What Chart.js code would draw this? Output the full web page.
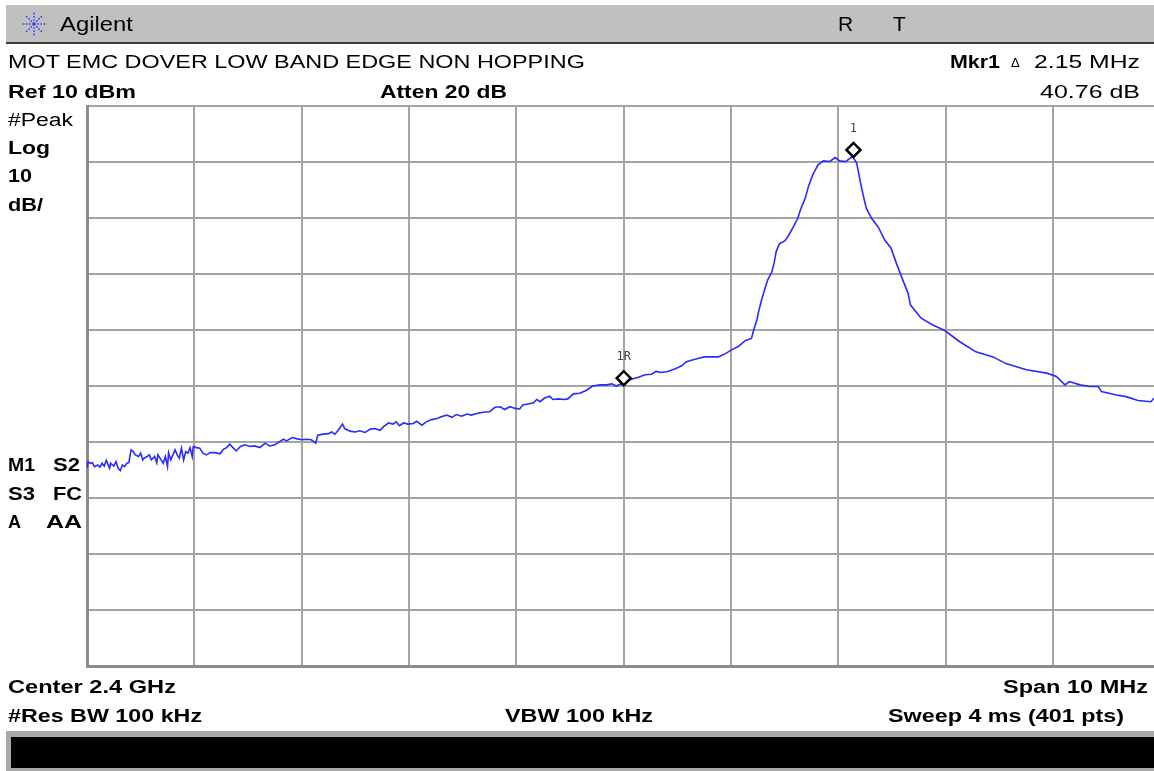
<!DOCTYPE html>
<html>
<head>
<meta charset="utf-8">
<title>Agilent spectrum - low band edge</title>
<script src="https://cdn.jsdelivr.net/npm/chart.js@4.4.1/dist/chart.umd.min.js"></script>
<style>
  html, body { margin: 0; padding: 0; background: #fff; overflow: hidden; width: 1154px; height: 771px; }
  body { position: relative; font-family: "Liberation Sans", Arial, sans-serif; color: #000; }
  #titleBar { position: absolute; left: 6px; top: 5px; width: 1148px; height: 37px; background: #c0c0c0; border-bottom: 2px solid #3c3c3c; }
  #logo { position: absolute; left: 19px; top: 11px; }
  .t { position: absolute; white-space: nowrap; font-size: 18px; line-height: 20px; transform-origin: 0 50%; }
  .b { font-weight: bold; }
  .big { font-size: 21px; line-height: 24px; }
  #chartBox { position: absolute; left: 0; top: 0; width: 1170px; height: 771px; }
  #statusBar { position: absolute; left: 6px; top: 731px; width: 1148px; height: 40px; background: #a8a8a8; }
  #statusBar div { position: absolute; left: 5px; top: 6px; right: 0; bottom: 3px; background: #000; }
</style>
</head>
<body>
<div id="titleBar"></div>
<svg id="logo" width="30" height="26" viewBox="0 0 30 26">
  <g stroke="#3c3cff" stroke-width="1.6" stroke-dasharray="1.6 1.6" fill="none">
    <line x1="15" y1="13" x2="15" y2="1"/>
    <line x1="15" y1="13" x2="15" y2="25"/>
    <line x1="15" y1="13" x2="2" y2="13"/>
    <line x1="15" y1="13" x2="28" y2="13"/>
    <line x1="15" y1="13" x2="6" y2="4"/>
    <line x1="15" y1="13" x2="24" y2="4"/>
    <line x1="15" y1="13" x2="6" y2="22"/>
    <line x1="15" y1="13" x2="24" y2="22"/>
  </g>
</svg>

<div id="chartBox"><canvas id="specChart" width="1170" height="771"></canvas></div>

<!-- annotation text, stretched to the widths seen on the instrument screen -->
<div class="t big" data-w="73" style="left:60px;top:12px;">Agilent</div>
<div class="t big" style="left:838px;top:12px;">R</div>
<div class="t big" style="left:893px;top:12px;">T</div>

<div class="t" data-w="577" style="left:8px;top:52px;">MOT EMC DOVER LOW BAND EDGE NON HOPPING</div>
<div class="t b" data-w="50" style="left:950px;top:52px;">Mkr1</div>
<div class="t" style="left:1011px;top:53px;font-size:13px;">&#916;</div>
<div class="t" data-w="106" style="left:1034px;top:52px;">2.15 MHz</div>

<div class="t b" data-w="128" style="left:8px;top:82px;">Ref 10 dBm</div>
<div class="t b" data-w="127" style="left:380px;top:82px;">Atten 20 dB</div>
<div class="t" data-w="100" style="left:1040px;top:82px;">40.76 dB</div>

<div class="t" data-w="65" style="left:8px;top:110px;">#Peak</div>
<div class="t b" data-w="42" style="left:8px;top:138px;">Log</div>
<div class="t b" data-w="24" style="left:8px;top:166px;">10</div>
<div class="t b" data-w="35" style="left:8px;top:195px;">dB/</div>

<div class="t b" data-w="27" style="left:8px;top:455px;">M1</div>
<div class="t b" data-w="27" style="left:53px;top:455px;">S2</div>
<div class="t b" data-w="27" style="left:8px;top:484px;">S3</div>
<div class="t b" data-w="29" style="left:53px;top:484px;">FC</div>
<div class="t b" style="left:8px;top:512px;">A</div>
<div class="t b" data-w="36" style="left:46px;top:512px;">AA</div>

<div class="t b" data-w="168" style="left:8px;top:677px;">Center 2.4 GHz</div>
<div class="t b" data-w="145" style="left:1003px;top:677px;">Span 10 MHz</div>
<div class="t b" data-w="194" style="left:8px;top:706px;">#Res BW 100 kHz</div>
<div class="t b" data-w="148" style="left:505px;top:706px;">VBW 100 kHz</div>
<div class="t b" data-w="236" style="left:888px;top:706px;">Sweep 4 ms (401 pts)</div>

<div id="statusBar"><div></div></div>

<script>
// sweep settings (Center 2.4 GHz, Span 10 MHz, Ref 10 dBm, 10 dB/div)
var spanMHz = 10;
var refLevelDbm = 10;
var dbPerDiv = 10;

// trace: frequency offset from start of span (MHz) and level (dBm)
var offsetMHz = [
  0.00, 0.01, 0.03, 0.05, 0.07, 0.10, 0.12, 0.14, 0.16, 0.18, 0.21, 0.22, 0.25, 0.27, 0.29, 0.31,
  0.33, 0.35, 0.37, 0.39, 0.41, 0.43, 0.45, 0.48, 0.50, 0.52, 0.53, 0.56, 0.58, 0.60, 0.63, 0.65,
  0.66, 0.69, 0.71, 0.73, 0.75, 0.76, 0.78, 0.80, 0.82, 0.84, 0.86, 0.88, 0.90, 0.92, 0.94, 0.96,
  0.98, 0.99, 1.02, 1.05, 1.08, 1.11, 1.15, 1.19, 1.24, 1.27, 1.30, 1.33, 1.36, 1.39, 1.43, 1.47,
  1.52, 1.56, 1.61, 1.66, 1.70, 1.75, 1.78, 1.83, 1.86, 1.91, 1.95, 2.00, 2.05, 2.09, 2.13, 2.15,
  2.20, 2.25, 2.28, 2.31, 2.34, 2.38, 2.40, 2.43, 2.46, 2.50, 2.54, 2.59, 2.64, 2.68, 2.73, 2.76,
  2.81, 2.85, 2.88, 2.91, 2.95, 2.99, 3.04, 3.07, 3.12, 3.16, 3.21, 3.26, 3.30, 3.35, 3.40, 3.44,
  3.49, 3.54, 3.58, 3.63, 3.69, 3.75, 3.80, 3.85, 3.89, 3.94, 3.99, 4.03, 4.06, 4.11, 4.16, 4.19,
  4.22, 4.26, 4.31, 4.34, 4.39, 4.44, 4.48, 4.53, 4.59, 4.65, 4.71, 4.78, 4.84, 4.89, 4.93, 4.99,
  5.07, 5.13, 5.20, 5.26, 5.30, 5.35, 5.41, 5.48, 5.54, 5.58, 5.63, 5.69, 5.75, 5.82, 5.88, 5.94,
  6.00, 6.07, 6.13, 6.19, 6.21, 6.24, 6.26, 6.28, 6.31, 6.34, 6.38, 6.40, 6.42, 6.45, 6.50, 6.53,
  6.58, 6.62, 6.65, 6.69, 6.72, 6.76, 6.81, 6.86, 6.92, 6.97, 7.01, 7.07, 7.13, 7.17, 7.20, 7.23,
  7.26, 7.31, 7.37, 7.43, 7.49, 7.54, 7.60, 7.65, 7.67, 7.77, 7.88, 7.99, 8.13, 8.28, 8.44, 8.56,
  8.75, 8.94, 9.03, 9.11, 9.15, 9.25, 9.34, 9.42, 9.45, 9.59, 9.68, 9.79, 9.91, 9.94, 10.00
];
var levelDbm = [
  -54.7, -53.5, -53.8, -53.7, -54.4, -54.1, -54.5, -53.8, -54.3, -53.3, -54.7, -53.8, -54.3, -53.5, -54.7, -55.1,
  -54.1, -54.4, -53.8, -53.7, -51.4, -51.7, -52.3, -52.6, -52.0, -53.2, -52.9, -52.6, -52.3, -53.2, -52.6, -53.7,
  -52.3, -53.2, -53.8, -52.6, -54.4, -51.9, -53.2, -52.3, -51.4, -52.3, -52.9, -51.1, -53.2, -51.7, -52.0, -51.0,
  -52.6, -50.8, -51.0, -51.1, -52.0, -52.3, -51.9, -51.9, -52.1, -51.3, -51.0, -50.4, -51.0, -51.6, -50.8, -50.5,
  -50.8, -50.7, -51.0, -50.2, -50.7, -50.5, -50.1, -49.5, -49.8, -49.2, -49.4, -49.6, -49.5, -49.6, -50.2, -48.8,
  -48.6, -48.5, -48.2, -48.6, -47.9, -46.8, -47.6, -47.9, -48.1, -48.2, -48.0, -48.3, -47.7, -47.6, -47.9, -47.3,
  -46.6, -46.8, -46.4, -47.1, -46.6, -46.8, -46.7, -46.3, -47.0, -46.4, -46.0, -45.8, -45.5, -45.2, -45.6, -45.1,
  -45.4, -45.0, -45.2, -44.9, -44.7, -44.6, -43.8, -43.7, -44.2, -43.7, -44.0, -44.1, -43.4, -43.2, -43.0, -42.4,
  -42.8, -42.2, -41.8, -42.4, -42.3, -42.4, -42.3, -41.4, -41.3, -40.8, -40.0, -39.8, -39.8, -39.6, -40.0, -39.5,
  -38.8, -38.5, -38.0, -37.9, -37.4, -37.6, -37.4, -36.9, -36.4, -35.7, -35.4, -35.1, -34.8, -34.8, -34.8, -34.3,
  -33.6, -32.9, -31.9, -31.5, -30.0, -28.2, -26.4, -24.9, -22.9, -21.1, -19.6, -18.1, -16.0, -14.6, -14.1, -13.3,
  -11.6, -10.1, -8.3, -6.5, -4.4, -2.3, -0.5, 0.2, 0.1, 0.8, 0.2, 0.1, 1.0, -0.2, -3.2, -5.9,
  -8.3, -10.1, -11.6, -13.9, -15.4, -18.1, -21.1, -23.5, -25.5, -27.9, -29.1, -30.1, -32.1, -33.9, -34.8, -36.0,
  -37.1, -37.7, -38.3, -39.8, -39.2, -39.8, -40.1, -40.1, -41.0, -41.6, -41.9, -42.6, -42.8, -42.2, -42.3
];

// markers: 1R reference and 1 (delta 2.15 MHz / 40.76 dB)
var markerLabels = ['1R', '1'];
var markerOffsetMHz = [5.00, 7.14];
var markerDbm = [-38.6, 2.16];

// stretch the annotation texts to the widths on the screen (the instrument font is wide)
document.querySelectorAll('.t[data-w]').forEach(function (el) {
  var target = parseFloat(el.getAttribute('data-w'));
  var w = el.getBoundingClientRect().width;
  el.style.transform = 'scaleX(' + (target / w).toFixed(3) + ')';
});

var tracePoints = offsetMHz.map(function (f, i) { return { x: f, y: levelDbm[i] }; });
var markerPoints = markerOffsetMHz.map(function (f, i) { return { x: f, y: markerDbm[i] }; });

// little labels above the marker diamonds
var markerLabelPlugin = {
  id: 'markerLabels',
  afterDatasetsDraw: function (chart) {
    var ctx = chart.ctx;
    var xs = chart.scales.x, ys = chart.scales.y;
    ctx.save();
    ctx.font = '12px "DejaVu Sans Mono", monospace';
    ctx.fillStyle = '#444';
    ctx.textAlign = 'center';
    ctx.textBaseline = 'middle';
    markerLabels.forEach(function (lbl, i) {
      ctx.fillText(lbl, xs.getPixelForValue(markerOffsetMHz[i]), ys.getPixelForValue(markerDbm[i]) - 21);
    });
    ctx.restore();
  }
};

var ctx = document.getElementById('specChart').getContext('2d');
var specChart = new Chart(ctx, {
  type: 'line',
  data: {
    datasets: [
      {
        label: 'Markers',
        type: 'scatter',
        data: markerPoints,
        pointStyle: 'rectRot',
        pointRadius: 7,
        pointBorderWidth: 2.5,
        pointBorderColor: '#000',
        pointBackgroundColor: '#fff',
        order: 0
      },
      {
        label: 'Trace',
        data: tracePoints,
        borderColor: '#2a2aff',
        borderWidth: 1.6,
        pointRadius: 0,
        tension: 0,
        fill: false,
        order: 1
      }
    ]
  },
  options: {
    responsive: false,
    animation: false,
    layout: { padding: { left: 87, top: 106, right: 9, bottom: 105 } },
    plugins: { legend: { display: false }, tooltip: { enabled: false } },
    scales: {
      x: {
        type: 'linear',
        min: 0,
        max: spanMHz,
        ticks: { display: false, stepSize: spanMHz / 10 },
        grid: { color: '#a4a4a4', lineWidth: 2, drawTicks: false },
        border: { display: true, color: '#8c8c8c', width: 3 }
      },
      y: {
        min: refLevelDbm - 10 * dbPerDiv,
        max: refLevelDbm,
        ticks: { display: false, stepSize: dbPerDiv },
        grid: { color: '#a4a4a4', lineWidth: 2, drawTicks: false },
        border: { display: true, color: '#8c8c8c', width: 3 }
      }
    }
  },
  plugins: [markerLabelPlugin]
});
</script>
</body>
</html>
